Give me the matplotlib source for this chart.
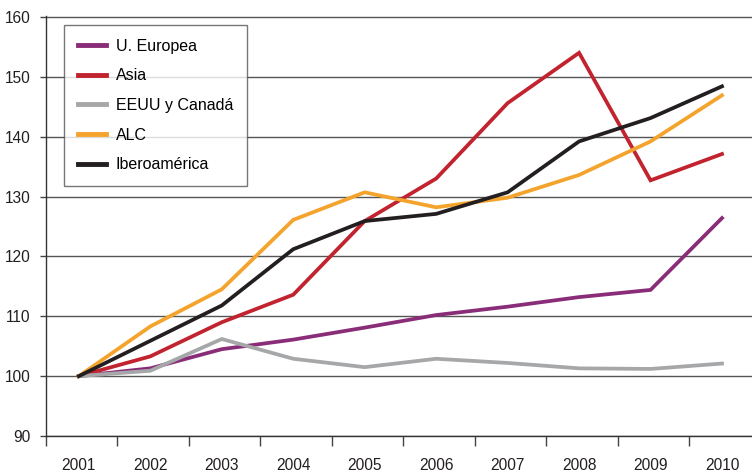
import numpy as np
import matplotlib.pyplot as plt
from matplotlib.ticker import FixedLocator

plt.rc('font', family=['Liberation Sans', 'DejaVu Sans'])

#### data
years = ['2001', '2002', '2003', '2004', '2005', '2006', '2007', '2008', '2009', '2010']
u_europea = [100, 101.3, 104.5, 106.1, 108.1, 110.2, 111.6, 113.2, 114.4, 126.4]
asia = [100, 103.3, 109.0, 113.6, 125.9, 133.0, 145.6, 154.0, 132.7, 137.1]
eeuu_canada = [100, 100.9, 106.2, 102.9, 101.5, 102.9, 102.2, 101.3, 101.2, 102.1]
alc = [100, 108.3, 114.5, 126.1, 130.7, 128.2, 129.8, 133.6, 139.2, 146.9]
iberoamerica = [100, 105.9, 111.8, 121.2, 125.9, 127.1, 130.7, 139.2, 143.1, 148.4]

series = [
    ('U. Europea', u_europea, '#8a2d78'),
    ('Asia', asia, '#c1232f'),
    ('EEUU y Canadá', eeuu_canada, '#a6a7a9'),
    ('ALC', alc, '#f4a42c'),
    ('Iberoamérica', iberoamerica, '#231f20'),
]

#### figure
fig = plt.figure(figsize=(7.52, 4.73), dpi=100)
ax = fig.add_axes([46/752, 37/473, 1 - 46/752, (436 - 16)/473])

x = np.arange(len(years))
for label, values, color in series:
    ax.plot(x, values, color=color, lw=2.7, label=label, solid_joinstyle='miter', zorder=3)

ax.set_xlim(-0.46, 9.42)
ax.set_ylim(90, 160.15)

# tick marks between categories, labels at the centres
ax.xaxis.set_major_locator(FixedLocator(np.arange(len(years) + 1) - 0.46))
ax.xaxis.set_minor_locator(FixedLocator(x))
ax.set_xticklabels([], minor=False)
ax.set_xticklabels(years, minor=True)
ax.tick_params(axis='x', which='major', length=7, width=1, color='#444444')
ax.tick_params(axis='x', which='minor', length=0, pad=16, labelsize=11.2, labelcolor='#231f20')

ax.set_yticks(np.arange(90, 161, 10))
ax.tick_params(axis='y', length=4, width=1, color='#444444', pad=7, labelsize=11.2, labelcolor='#231f20')

ax.yaxis.grid(True, color='#555555', lw=1)
ax.set_axisbelow(True)

for side in ['top', 'right']:
    ax.spines[side].set_visible(False)
for side in ['left', 'bottom']:
    ax.spines[side].set_color('#333333')
    ax.spines[side].set_linewidth(1)

leg = ax.legend(loc='upper left', bbox_to_anchor=(18/706, 1 - 9/420), fontsize=11.5,
                frameon=True, fancybox=False, handlelength=1.8, handletextpad=0.6,
                labelspacing=0.92, borderpad=0.85, borderaxespad=0)
leg.get_frame().set_edgecolor('#555555')
leg.get_frame().set_linewidth(1)
for line in leg.get_lines():
    line.set_linewidth(3.5)

plt.savefig('out.png', dpi=100)
